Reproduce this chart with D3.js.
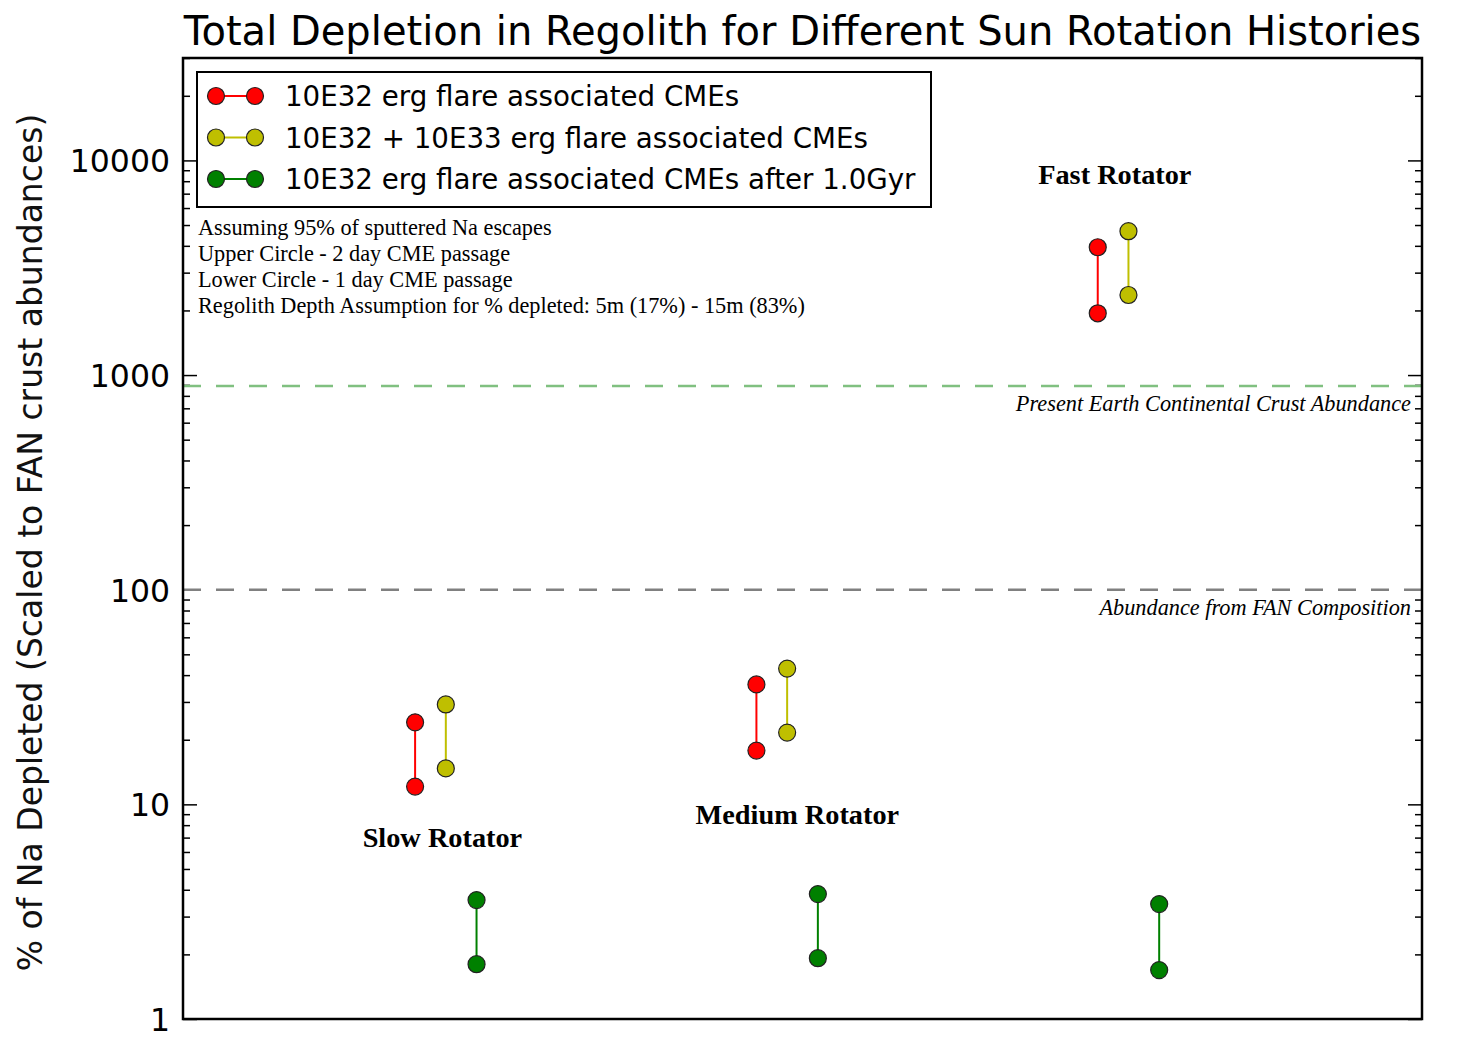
<!DOCTYPE html>
<meta charset="utf-8">
<head>
    <title>Total Depletion in Regolith</title>
    <style>
        body { margin: 0; background: white; }
        .tick text { font-family: "DejaVu Sans", sans-serif; }
    </style>
</head>
<body>
<script src="https://cdn.jsdelivr.net/npm/d3@7"></script>
<script>
    // rotator groups
    var rotators = ["Slow Rotator", "Medium Rotator", "Fast Rotator"];
    var rotatorX = [1, 2, 3];

    // series (upper circle = 2 day passage, lower circle = 1 day passage)
    var seriesNames = ["10E32 erg flare associated CMEs",
                       "10E32 + 10E33 erg flare associated CMEs",
                       "10E32 erg flare associated CMEs after 1.0Gyr"];
    var redUpper = [24.1, 36.2, 3940];
    var redLower = [12.1, 17.8, 1940];
    var yellowUpper = [29.2, 42.9, 4680];
    var yellowLower = [14.7, 21.6, 2360];
    var greenUpper = [3.58, 3.82, 3.43];
    var greenLower = [1.80, 1.92, 1.69];

    // reference levels
    var crustLevel = 890;
    var fanLevel = 100;

    // rotator label anchors (data coords)
    var labelX = [1.08, 2.12, 3.05];
    var labelY = [6.3, 8.1, 7750];

    var yTicks = [1, 10, 100, 1000, 10000];

    var notes = ["Assuming 95% of sputtered Na escapes",
                 "Upper Circle - 2 day CME passage",
                 "Lower Circle - 1 day CME passage",
                 "Regolith Depth Assumption for % depleted: 5m (17%) - 15m (83%)"];

    var colors = ["#ff0000", "#bfbf00", "#008000"];
    var offsets = [0, 0.09, 0.18];
    var uppers = [redUpper, yellowUpper, greenUpper];
    var lowers = [redLower, yellowLower, greenLower];

    var W = 1460, H = 1048;
    var margin = { top: 58, right: 38, bottom: 29, left: 183 };

    var svg = d3.select("body").append("svg")
        .attr("width", W).attr("height", H);

    var x = d3.scaleLinear().domain([0.32, 3.95]).range([margin.left, W - margin.right]);
    var y = d3.scaleLog().domain([1, 30000]).range([H - margin.bottom, margin.top]);

    // title
    svg.append("text")
        .attr("x", (margin.left + W - margin.right) / 2)
        .attr("y", 45)
        .attr("text-anchor", "middle")
        .style("font-family", "DejaVu Sans")
        .style("font-size", "40px")
        .text("Total Depletion in Regolith for Different Sun Rotation Histories");

    // y axis label
    svg.append("text")
        .attr("transform", "translate(42," + ((margin.top + H - margin.bottom) / 2 + 4) + ") rotate(-90)")
        .attr("text-anchor", "middle")
        .style("font-family", "DejaVu Sans")
        .style("font-size", "33px")
        .style("fill", "#111")
        .text("% of Na Depleted (Scaled to FAN crust abundances)");

    // minor ticks
    var minors = [];
    for (var e = 0; e < 5; e++) {
        for (var m = 2; m <= 9; m++) {
            var v = m * Math.pow(10, e);
            if (v <= 30000) minors.push(v);
        }
    }

    var left = d3.axisLeft(y).tickValues(yTicks).tickFormat(d3.format("d"))
        .tickSizeInner(-14).tickSizeOuter(0).tickPadding(13);
    var gl = svg.append("g").attr("transform", "translate(" + margin.left + ",0)").call(left);
    gl.select(".domain").remove();
    gl.selectAll(".tick line").attr("stroke", "#000").attr("stroke-width", 1.5);
    gl.selectAll(".tick text").style("font-size", "31.5px").attr("dy", "0.36em");

    var right = d3.axisRight(y).tickValues(yTicks).tickFormat("")
        .tickSizeInner(-14).tickSizeOuter(0);
    var gr = svg.append("g").attr("transform", "translate(" + (W - margin.right) + ",0)").call(right);
    gr.select(".domain").remove();
    gr.selectAll(".tick line").attr("stroke", "#000").attr("stroke-width", 1.5);

    var minorL = d3.axisLeft(y).tickValues(minors).tickFormat("").tickSizeInner(-7).tickSizeOuter(0);
    var gml = svg.append("g").attr("transform", "translate(" + margin.left + ",0)").call(minorL);
    gml.select(".domain").remove();
    gml.selectAll(".tick line").attr("stroke", "#000").attr("stroke-width", 1.5);

    var minorR = d3.axisRight(y).tickValues(minors).tickFormat("").tickSizeInner(-7).tickSizeOuter(0);
    var gmr = svg.append("g").attr("transform", "translate(" + (W - margin.right) + ",0)").call(minorR);
    gmr.select(".domain").remove();
    gmr.selectAll(".tick line").attr("stroke", "#000").attr("stroke-width", 1.5);

    // reference dashed lines
    var refs = [
        { v: crustLevel, color: "#80c080", label: "Present Earth Continental Crust Abundance" },
        { v: fanLevel, color: "#808080", label: "Abundance from FAN Composition" }
    ];
    refs.forEach(function(r) {
        svg.append("line")
            .attr("x1", margin.left).attr("x2", W - margin.right)
            .attr("y1", y(r.v)).attr("y2", y(r.v))
            .attr("stroke", r.color).attr("stroke-width", 2.5)
            .attr("stroke-dasharray", "18,15");
        svg.append("text")
            .attr("x", W - margin.right - 11)
            .attr("y", y(r.v) + 25)
            .attr("text-anchor", "end")
            .style("font-family", "Liberation Serif")
            .style("font-style", "italic")
            .style("font-size", "22.3px")
            .text(r.label);
    });

    // series
    uppers.forEach(function(up, s) {
        var g = svg.append("g");
        rotatorX.forEach(function(rx, i) {
            var cx = x(rx + offsets[s]);
            g.append("line")
                .attr("x1", cx).attr("x2", cx)
                .attr("y1", y(up[i])).attr("y2", y(lowers[s][i]))
                .attr("stroke", colors[s]).attr("stroke-width", 2);
            [up[i], lowers[s][i]].forEach(function(val) {
                g.append("circle")
                    .attr("cx", cx).attr("cy", y(val)).attr("r", 8.5)
                    .attr("fill", colors[s]).attr("stroke", "#222").attr("stroke-width", 1.2);
            });
        });
    });

    // rotator labels
    rotators.forEach(function(name, i) {
        svg.append("text")
            .attr("x", x(labelX[i]))
            .attr("y", y(labelY[i]))
            .attr("text-anchor", "middle")
            .style("font-family", "Liberation Serif")
            .style("font-weight", "bold")
            .style("font-size", "28.3px")
            .text(name);
    });

    // notes
    notes.forEach(function(t, i) {
        svg.append("text")
            .attr("x", 198).attr("y", 235 + i * 26)
            .style("font-family", "Liberation Serif")
            .style("font-size", "22.3px")
            .text(t);
    });

    // legend
    var lg = svg.append("g");
    lg.append("rect")
        .attr("x", 197).attr("y", 72).attr("width", 734).attr("height", 135)
        .attr("fill", "white").attr("stroke", "#000").attr("stroke-width", 2);
    seriesNames.forEach(function(name, i) {
        var ly = 96 + i * 41.5;
        lg.append("line").attr("x1", 216).attr("x2", 255).attr("y1", ly).attr("y2", ly)
            .attr("stroke", colors[i]).attr("stroke-width", 2);
        [216, 255].forEach(function(px) {
            lg.append("circle").attr("cx", px).attr("cy", ly).attr("r", 8.5)
                .attr("fill", colors[i]).attr("stroke", "#222").attr("stroke-width", 1.2);
        });
        lg.append("text").attr("x", 285).attr("y", ly + 10)
            .style("font-family", "DejaVu Sans").style("font-size", "27.7px")
            .text(name);
    });

    // frame
    svg.append("rect")
        .attr("x", margin.left).attr("y", margin.top)
        .attr("width", W - margin.right - margin.left)
        .attr("height", H - margin.bottom - margin.top)
        .attr("fill", "none").attr("stroke", "#000").attr("stroke-width", 2.5);
</script>
</body>
</html>
